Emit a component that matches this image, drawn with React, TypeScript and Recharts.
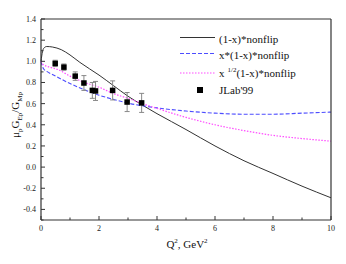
import { ComposedChart, Line, Scatter, XAxis, YAxis, ErrorBar } from "recharts";

const FONT = "Liberation Serif, Times New Roman, serif";
const AXIS = "#333";
const BLUE = "#4d4dff";
const PINK = "#ff4dff";

// tick positions (labels on every second one)
const xTicks = [0, 1, 2, 3, 4, 5, 6, 7, 8, 9, 10];
const yTicks = [-0.5, -0.4, -0.3, -0.2, -0.1, 0, 0.1, 0.2, 0.3, 0.4, 0.5, 0.6, 0.7, 0.8, 0.9, 1.0, 1.1, 1.2, 1.3, 1.4];

// (1-x)*nonflip
const solidQ2 = [0, 0.05, 0.1, 0.2, 0.4, 0.7, 1.0, 1.34, 2.0, 2.5, 3.0, 3.5, 4.0, 4.5, 5.0, 6.0, 7.0, 8.0, 9.0, 10];
const solidVal = [1.0, 1.09, 1.125, 1.14, 1.135, 1.11, 1.06, 0.99, 0.87, 0.77, 0.67, 0.585, 0.505, 0.43, 0.355, 0.2, 0.06, -0.06, -0.18, -0.29];

// x*(1-x)*nonflip
const blueQ2 = [0, 0.05, 0.1, 0.2, 0.5, 1.0, 1.5, 2.0, 2.5, 3.0, 3.5, 4.0, 5.0, 6.0, 7.0, 8.0, 9.0, 10];
const blueVal = [1.0, 0.95, 0.925, 0.905, 0.86, 0.79, 0.73, 0.68, 0.64, 0.605, 0.58, 0.56, 0.53, 0.51, 0.5, 0.5, 0.51, 0.52];

// x^1/2(1-x)*nonflip
const pinkQ2 = [0, 0.05, 0.1, 0.3, 0.6, 1.0, 1.5, 2.0, 2.5, 3.0, 3.5, 4.0, 5.0, 6.0, 7.0, 8.0, 9.0, 10];
const pinkVal = [1.0, 0.975, 0.965, 0.945, 0.92, 0.86, 0.8, 0.755, 0.695, 0.65, 0.6, 0.555, 0.47, 0.4, 0.345, 0.3, 0.27, 0.245];

// JLab'99
const jlabQ2 = [0.49, 0.79, 1.18, 1.48, 1.77, 1.88, 2.47, 2.97, 3.47];
const jlabRatio = [0.98, 0.945, 0.86, 0.795, 0.725, 0.72, 0.725, 0.615, 0.607];
const jlabErr = [0.03, 0.03, 0.04, 0.07, 0.075, 0.09, 0.09, 0.09, 0.09];

const toPoints = (xs: number[], ys: number[]) => xs.map((x, i) => ({ x, y: ys[i] }));

const solidData = toPoints(solidQ2, solidVal);
const blueData = toPoints(blueQ2, blueVal);
const pinkData = toPoints(pinkQ2, pinkVal);
const jlabData = jlabQ2.map((x, i) => ({ x, y: jlabRatio[i], err: jlabErr[i] }));

const isMajorY = (v: number) => Math.round(v * 10) % 2 === 0;

const BottomTick = ({ x, y, payload }: any) => {
  const major = payload.value % 2 === 0;
  return (
    <g>
      <line x1={x} x2={x} y1={y} y2={y - (major ? 4 : 2.5)} stroke={AXIS} />
      {major && (
        <text x={x} y={y + 11} textAnchor="middle" fontSize={8} fontFamily={FONT} fill="#222">
          {payload.value}
        </text>
      )}
    </g>
  );
};

const TopTick = ({ x, y, payload }: any) => {
  const major = payload.value % 2 === 0;
  return <line x1={x} x2={x} y1={y} y2={y + (major ? 4 : 2.5)} stroke={AXIS} />;
};

const LeftTick = ({ x, y, payload }: any) => {
  const major = isMajorY(payload.value);
  return (
    <g>
      <line x1={x + 5} x2={x + 5 + (major ? 4 : 2.5)} y1={y} y2={y} stroke={AXIS} />
      {major && (
        <text x={x} y={y + 3} textAnchor="end" fontSize={8} fontFamily={FONT} fill="#222">
          {payload.value.toFixed(1)}
        </text>
      )}
    </g>
  );
};

const RightTick = ({ x, y, payload }: any) => {
  const major = isMajorY(payload.value);
  return <line x1={x} x2={x - (major ? 4 : 2.5)} y1={y} y2={y} stroke={AXIS} />;
};

const Square = (props: any) => {
  const { cx, cy } = props;
  return <rect x={cx - 2.75} y={cy - 2.75} width={5.5} height={5.5} fill="#000" />;
};

export default function App() {
  return (
    <div style={{ position: "relative", width: 346, height: 264 }}>
      <style>{`body{margin:0;background:#fff}`}</style>
      <ComposedChart width={346} height={264} margin={{ top: 0, right: 0, bottom: 0, left: 0 }}>
        <XAxis
          xAxisId="bottom"
          type="number"
          dataKey="x"
          domain={[0, 10]}
          ticks={xTicks}
          interval={0}
          height={44}
          tickSize={0}
          tickMargin={0}
          tickLine={false}
          axisLine={{ stroke: AXIS, strokeWidth: 1.2 }}
          tick={<BottomTick />}
        />
        <XAxis
          xAxisId="top"
          orientation="top"
          type="number"
          dataKey="x"
          domain={[0, 10]}
          ticks={xTicks}
          interval={0}
          height={19}
          tickSize={0}
          tickMargin={0}
          tickLine={false}
          axisLine={{ stroke: AXIS, strokeWidth: 1.2 }}
          tick={<TopTick />}
        />
        <YAxis
          yAxisId="left"
          type="number"
          domain={[-0.5, 1.4]}
          ticks={yTicks}
          interval={0}
          width={41}
          tickSize={0}
          tickMargin={5}
          tickLine={false}
          axisLine={{ stroke: AXIS, strokeWidth: 1.2 }}
          tick={<LeftTick />}
        />
        <YAxis
          yAxisId="right"
          orientation="right"
          type="number"
          domain={[-0.5, 1.4]}
          ticks={yTicks}
          interval={0}
          width={15}
          tickSize={0}
          tickMargin={0}
          tickLine={false}
          axisLine={{ stroke: AXIS, strokeWidth: 1.2 }}
          tick={<RightTick />}
        />
        <Line
          xAxisId="bottom"
          yAxisId="left"
          data={solidData}
          dataKey="y"
          type="monotone"
          stroke="#333"
          strokeWidth={1}
          dot={false}
          isAnimationActive={false}
        />
        <Line
          xAxisId="bottom"
          yAxisId="left"
          data={blueData}
          dataKey="y"
          type="monotone"
          stroke={BLUE}
          strokeWidth={1.1}
          strokeDasharray="4 2"
          dot={false}
          isAnimationActive={false}
        />
        <Line
          xAxisId="bottom"
          yAxisId="left"
          data={pinkData}
          dataKey="y"
          type="monotone"
          stroke={PINK}
          strokeWidth={1.2}
          strokeDasharray="1.5 1.5"
          dot={false}
          isAnimationActive={false}
        />
        <Scatter
          xAxisId="bottom"
          yAxisId="left"
          data={jlabData}
          dataKey="y"
          shape={<Square />}
          isAnimationActive={false}
        >
          <ErrorBar dataKey="err" direction="y" width={2.5} stroke="#888" strokeWidth={1} />
        </Scatter>
      </ComposedChart>

      <svg
        width={346}
        height={264}
        style={{ position: "absolute", left: 0, top: 0, pointerEvents: "none" }}
        fontFamily={FONT}
      >
        {/* legend */}
        <line x1={180} x2={215} y1={37.5} y2={37.5} stroke="#333" strokeWidth={1} />
        <text x={219} y={43} fontSize={11} fill="#111">(1-x)*nonflip</text>
        <line x1={180} x2={215} y1={53.5} y2={53.5} stroke={BLUE} strokeWidth={1.1} strokeDasharray="4 2" />
        <text x={219} y={59} fontSize={11} fill="#111">x*(1-x)*nonflip</text>
        <line x1={180} x2={215} y1={73} y2={73} stroke={PINK} strokeWidth={1.2} strokeDasharray="1.5 1.5" />
        <text x={219} y={77} fontSize={11} fill="#111">
          x<tspan dx={3} dy={-5} fontSize={7}>1/2</tspan>
          <tspan dy={5}>(1-x)*nonflip</tspan>
        </text>
        <rect x={197} y={87} width={6} height={6} fill="#000" />
        <text x={219} y={94} fontSize={11} fill="#111">JLab'99</text>

        {/* axis titles */}
        <text x={187} y={248} fontSize={11} textAnchor="middle" fill="#111">
          Q<tspan dy={-5} fontSize={7}>2</tspan>
          <tspan dy={5}>, GeV</tspan>
          <tspan dy={-5} fontSize={7}>2</tspan>
        </text>
        <text transform="translate(19,115) rotate(-90)" fontSize={11} textAnchor="middle" fill="#111">
          μ<tspan dy={3} fontSize={7}>p</tspan>
          <tspan dy={-3}>G</tspan>
          <tspan dy={3} fontSize={7}>Ep</tspan>
          <tspan dy={-3}>/G</tspan>
          <tspan dy={3} fontSize={7}>Mp</tspan>
        </text>
      </svg>
    </div>
  );
}
